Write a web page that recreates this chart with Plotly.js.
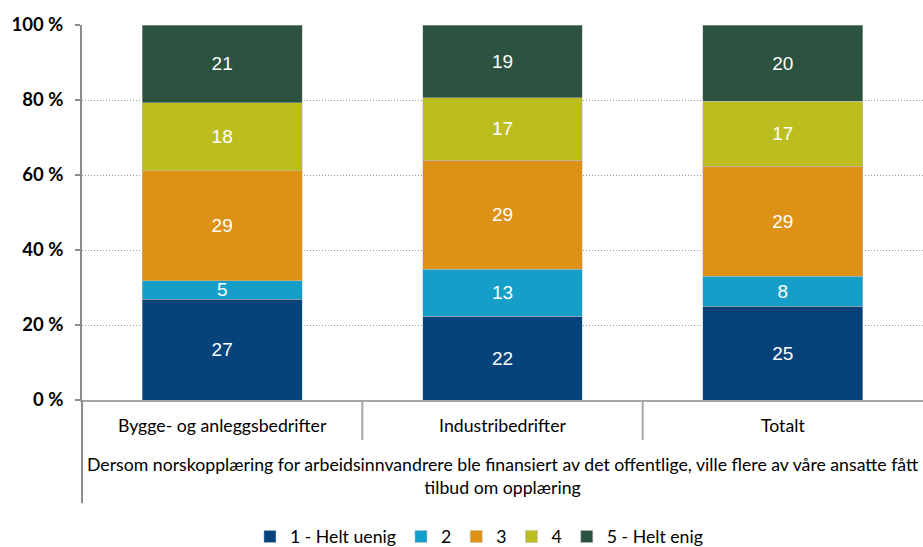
<!DOCTYPE html>
<html>
<head>
<meta charset="utf-8">
<script src="https://cdn.plot.ly/plotly-3.0.1.min.js"></script>
<style>
html,body{margin:0;padding:0;background:#fff;}
#chart{width:923px;height:547px;}
</style>
</head>
<body>
<div id="chart"></div>
<script>
const categories = ["Bygge- og anleggsbedrifter", "Industribedrifter", "Totalt"];
const groupLabel = "Dersom norskopplæring for arbeidsinnvandrere ble finansiert av det offentlige, ville flere av våre ansatte fått<br>tilbud om opplæring";
const seriesNames = ["1 - Helt uenig", "2", "3", "4", "5 - Helt enig"];
const s1 = [26.9, 22.3, 25.0];
const s2 = [4.9, 12.6, 8.0];
const s3 = [29.3, 29.1, 29.3];
const s4 = [18.2, 16.6, 17.4];
const s5 = [20.7, 19.4, 20.3];
const yTicks = [0, 20, 40, 60, 80, 100];
const yTickLabels = ["0 %", "20 %", "40 %", "60 %", "80 %", "100 %"];
const colors = ["#06437A", "#159FC8", "#DD9216", "#BCBE1F", "#2C5240"];

const seriesValues = [s1, s2, s3, s4, s5];
const traces = seriesValues.map((vals, i) => ({
  type: "bar",
  name: seriesNames[i],
  x: categories,
  y: vals,
  marker: {color: colors[i], line: {color: "rgba(190,190,190,0.8)", width: 0.6}},
  texttemplate: "%{y:.0f}",
  textposition: "inside",
  insidetextanchor: "middle",
  constraintext: "none",
  textangle: 0,
  textfont: {family: "Liberation Sans, Arial, sans-serif", size: 19, color: "#ffffff"},
  hoverinfo: "skip"
}));

const narrow = "Lato, 'Liberation Sans', sans-serif";
const fs = 17.7;
const layout = {
  width: 923, height: 547,
  margin: {l: 82, r: 0, t: 25, b: 147},
  paper_bgcolor: "#ffffff", plot_bgcolor: "#ffffff",
  barmode: "stack",
  bargap: 0.43,
  showlegend: true,
  legend: {
    orientation: "h", x: 0.472, xanchor: "center",
    yref: "container", y: 0.0183, yanchor: "middle",
    font: {family: narrow, size: fs, color: "#000"},
    traceorder: "normal", itemwidth: 30
  },
  xaxis: {
    type: "category", automargin: false,
    showline: true, linecolor: "#a6a6a6", linewidth: 2,
    ticks: "", showgrid: false,
    tickfont: {family: narrow, size: fs, color: "#000"},
    ticklabelstandoff: 9
  },
  yaxis: {
    range: [0, 100], tickmode: "array", tickvals: yTicks, ticktext: yTickLabels,
    automargin: false,
    showline: true, linecolor: "#8c8c8c", linewidth: 2,
    ticks: "outside", ticklen: 5, tickcolor: "#8c8c8c", tickwidth: 1.5,
    showgrid: true, gridcolor: "#9a9a9a", gridwidth: 1, griddash: "1px,2px",
    zeroline: false,
    ticklabelstandoff: 8,
    tickfont: {family: narrow, size: 18.5, color: "#000", weight: "bold"}
  },
  shapes: [
    {type: "line", xref: "x", yref: "paper", x0: 0.5, x1: 0.5, y0: 0, y1: -0.1067, line: {color: "#a6a6a6", width: 2}},
    {type: "line", xref: "x", yref: "paper", x0: 1.5, x1: 1.5, y0: 0, y1: -0.1067, line: {color: "#a6a6a6", width: 2}},
    {type: "line", xref: "paper", yref: "paper", x0: 0, x1: 0, y0: 0, y1: -0.275, line: {color: "#8c8c8c", width: 2}}
  ],
  annotations: [
    {xref: "paper", yref: "paper", x: 0.5, y: -0.203, xanchor: "center", yanchor: "middle",
     text: groupLabel, showarrow: false, align: "center",
     font: {family: narrow, size: fs, color: "#000"}}
  ]
};

Plotly.newPlot("chart", traces, layout, {displayModeBar: false, staticPlot: true});
</script>
</body>
</html>
